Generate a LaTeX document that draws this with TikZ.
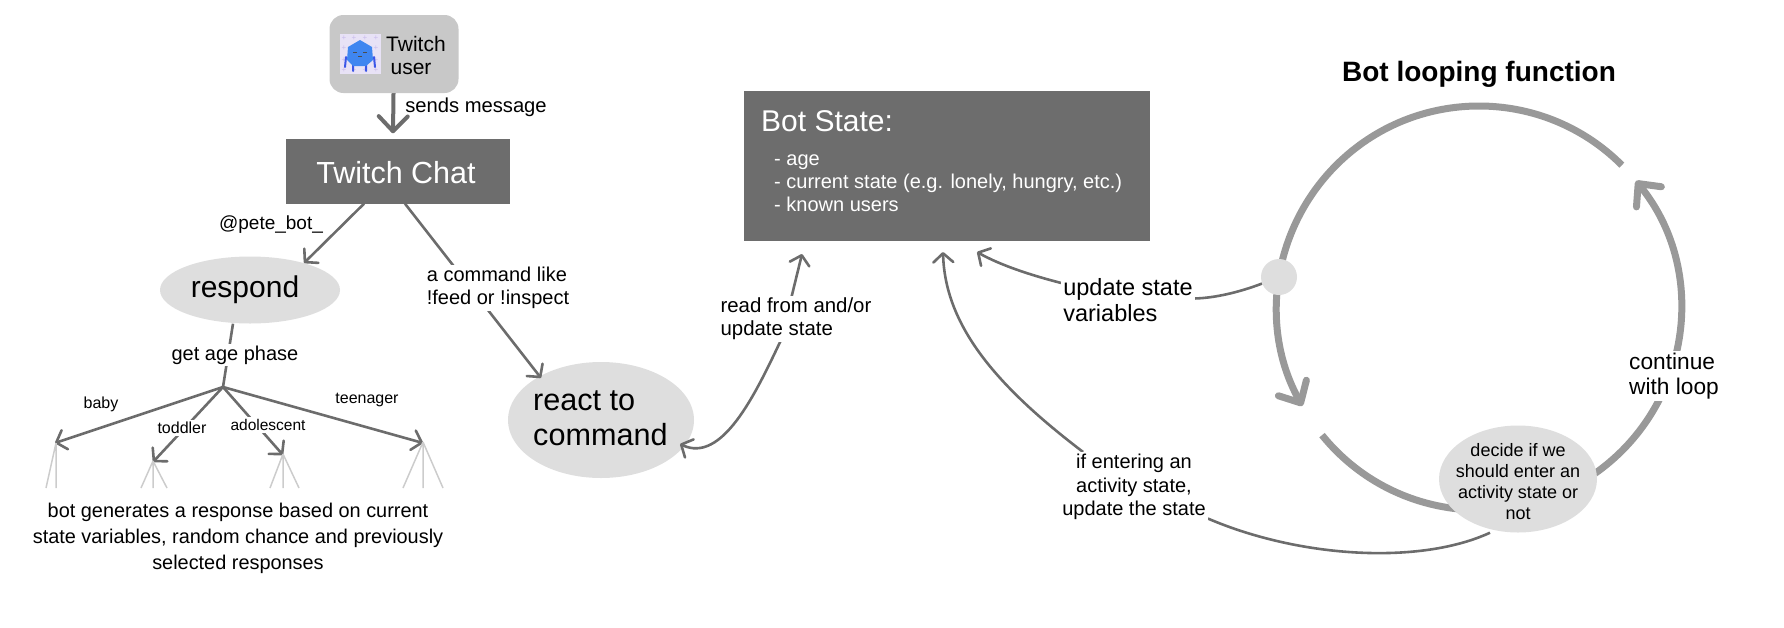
\documentclass[tikz,border=0pt]{standalone}
\usepackage{fontspec}
\setmainfont{Liberation Sans}
\usetikzlibrary{arrows.meta,backgrounds,positioning,shapes.geometric}

\definecolor{boxgrey}{HTML}{6D6D6D}
\definecolor{linegrey}{HTML}{6C6C6C}
\definecolor{loopgrey}{HTML}{999999}
\definecolor{blobgrey}{HTML}{DEDEDE}
\definecolor{usergrey}{HTML}{C8C8C8}
\definecolor{twiggrey}{HTML}{CCCCCC}
\definecolor{avatarbg}{HTML}{E8E2F6}
\definecolor{avatarplus}{HTML}{C9BCEC}
\definecolor{avatarblue}{HTML}{3F86F0}
\definecolor{avatarlimb}{HTML}{3B56E8}

\newcommand{\fsize}[1]{\fontsize{#1}{#1}\selectfont}

\begin{document}
\begin{tikzpicture}[
    x=1pt, y=-1pt,
    >={Straight Barb[length=9pt,width=20pt,round]},
    darkbox/.style={
        rectangle,
        fill=boxgrey,
        text=white,
        inner sep=0pt
    },
    blob/.style={
        ellipse,
        fill=blobgrey,
        inner sep=0pt
    },
    lbl/.style={
        fill=white,
        inner sep=2pt,
        align=center
    },
    conn/.style={
        draw=linegrey,
        line width=2.6pt
    },
    twig/.style={
        draw=twiggrey,
        line width=1.5pt
    },
    loopline/.style={
        draw=loopgrey,
        line width=7pt,
        -{Straight Barb[length=17pt,width=32pt,round]}
    }
]
    \useasboundingbox (0,0) rectangle (1784,627);

    % Twitch user box with its avatar
    \node[fill=usergrey, rounded corners=14pt, minimum width=129pt, minimum height=78pt, inner sep=0pt] (user) at (394,54) {};
    \node[fill=avatarbg, minimum width=41pt, minimum height=40pt, inner sep=0pt] (avatar) at (360,54) {};
    \foreach \px in {344,354,365,376} \foreach \py in {38,48,60,70}
        \node[text=avatarplus, inner sep=0pt, font=\fsize{8}] at (\px,\py) {+};
    \draw[avatarlimb, line width=2pt, line cap=round] (346,57) -- (345,67) (374,57) -- (375,67) (353,64) -- (353,71) (366,64) -- (366,71);
    \fill[avatarblue] (360,40) -- (372,47) -- (373,60) -- (366,66) -- (353,66) -- (347,60) -- (348,47) -- cycle;
    \draw[black!70, line width=1pt] (353,52) -- (357,52) (363,52) -- (367,52) (358,56) -- (362,56);
    \node[font=\fsize{21}, inner sep=0pt] (twitchword) at (416,44) {Twitch};
    \node[font=\fsize{21}, inner sep=0pt] (userword) at (411,69) {user};

    % Twitch chat box
    \node[darkbox, minimum width=224pt, minimum height=65pt] (chat) at (398,171) {};
    \node[text=white, font=\fsize{30.5}, inner sep=0pt] (chatword) at (396,173) {Twitch Chat};
    \node[font=\fsize{20.2}, inner sep=0pt] (sends) at (476,107) {sends message};
    \node[font=\fsize{19}, inner sep=0pt] (mention) at (271,225) {@pete\_bot\_};

    % Response branch
    \node[blob, minimum width=180pt, minimum height=67pt] (respond) at (250,290) {};
    \node[font=\fsize{30}, inner sep=0pt] (respondword) at (245,290) {respond};
    \coordinate (chatleft) at ([xshift=-34pt]chat.south);
    \coordinate (respondtip) at (304,263);
    \draw[conn, ->] (chatleft) -- (respondtip);
    \node[lbl, font=\fsize{20}] (agephase) at (235,355) {get age phase};
    \coordinate (ageout) at ([xshift=-17pt]respond.south);
    \coordinate (agehub) at (223,387);
    \coordinate (babytip) at (55,443);
    \coordinate (toddlertip) at (153,462);
    \coordinate (adoltip) at (283,455);
    \coordinate (teentip) at (423,443);
    \node[font=\fsize{16}, inner sep=0pt] (baby) at (101,404) {baby};
    \node[lbl, font=\fsize{16}] (toddler) at (182,428) {toddler};
    \node[lbl, font=\fsize{15.5}] (adolescent) at (268,425) {adolescent};
    \node[font=\fsize{16}, inner sep=0pt] (teenager) at (367,400) {teenager};
    \node[font=\fsize{19.9}, align=center, inner sep=0pt] (generates) at (238,538) {bot generates a response based on current\\[6pt]state variables, random chance and previously\\[6pt]selected responses};

    % Command branch
    \node[blob, minimum width=186pt, minimum height=116pt] (react) at (601,420) {};
    \node[font=\fsize{30.6}, align=left, inner sep=0pt, anchor=west] (reactword) at (533,418) {react to\\[4pt]command};
    \coordinate (chatright) at ([xshift=7pt]chat.south);
    \coordinate (reacttip) at (541,378);
    \draw[conn, ->] (chatright) -- (reacttip);
    \node[lbl, font=\fsize{20}, align=left] (cmdlabel) at (498,288) {a command like\\[3pt]!feed or !inspect};

    % Bot state box
    \node[darkbox, minimum width=406pt, minimum height=150pt] (state) at (947,166) {};
    \node[text=white, font=\fsize{30}, inner sep=0pt, anchor=west] (statetitle) at (761,121) {Bot State:};
    \node[text=white, font=\fsize{20}, align=left, inner sep=0pt, anchor=west] (statelist) at (774,183) {- age\\[3pt]- current state (e.g. lonely, hungry, etc.)\\[3pt]- known users};
    \coordinate (reactout) at (680,444);
    \coordinate (readtip) at (802,254);
    \draw[conn, <->] (reactout) .. controls (722,464) and (755,395) .. (781,340) -- (readtip);
    \node[lbl, font=\fsize{20.4}, align=left] (readlabel) at (796,319) {read from and/or\\[3pt]update state};
    \node[lbl, font=\fsize{23.5}, align=left] (updlabel) at (1128,300) {update state\\[2.5pt]variables};
    \node[lbl, font=\fsize{20}] (entering) at (1134,487) {if entering an\\[3.5pt]activity state,\\[3.5pt]update the state};

    % Bot loop on the right
    \coordinate (loopcentre) at (1479,308);
    \node[font=\bfseries\fsize{28}, inner sep=0pt] (looptitle) at (1479,74) {Bot looping function};
    \node[circle, fill=blobgrey, minimum size=36pt, inner sep=0pt] (dot) at (1279,277) {};
    \node[blob, minimum width=158pt, minimum height=107pt] (decide) at (1518,479) {};
    \node[font=\fsize{18}, align=center, inner sep=0pt] (decidetext) at (1518,482) {decide if we\\[3pt]should enter an\\[3pt]activity state or\\[3pt]not};
    \node[lbl, font=\fsize{22.7}, align=left] (continue) at (1674,376) {continue\\[2.5pt]with loop};

    % Connectors go under the nodes
    \begin{scope}[on background layer]
        \coordinate (chatin) at ([yshift=5pt,xshift=-1pt]chat.north -| user);
        \draw[conn, line width=4pt, -{Straight Barb[length=15pt,width=29pt,round]}] (user) -- (chatin);
        \draw[conn] (ageout) -- (agehub);
        \foreach \tip in {babytip, toddlertip, adoltip, teentip}
            \draw[conn, ->] (agehub) -- (\tip);
        \draw[twig] (babytip) ++(1,0) -- ++(0,45) (babytip) ++(1,0) -- ++(-10,45);
        \foreach \tip/\l/\r/\h in {toddlertip/-12/14/27, adoltip/-13/16/34, teentip/-20/20/46} {
            \draw[twig] (\tip) ++(0,-1) -- ++(\l,\h) (\tip) ++(0,-1) -- ++(0,\h) (\tip) ++(0,-1) -- ++(\r,\h);
        }
        % Curved arrows around the state box
        \coordinate (stateintip) at (943,252);
        \coordinate (updtip) at (977,252);
        \coordinate (decideout) at ([xshift=-28pt]decide.south);
        \coordinate (enterout) at ([xshift=23pt]entering.north west);
        \draw[conn] (dot) .. controls (1240,292) and (1215,298) .. (updlabel);
        \draw[conn, ->] (updlabel) .. controls (1030,275) and (1000,265) .. (updtip);
        \draw[conn] (decideout) .. controls (1420,565) and (1300,558) .. (entering);
        \draw[conn, ->] (enterout) .. controls (995,385) and (945,325) .. (stateintip);
        % The two big arcs
        \draw[loopline] (loopcentre) ++(-45:202) arc[start angle=-45, end angle=-209, radius=202];
        \draw[loopline] (loopcentre) ++(-219:202) arc[start angle=-219, end angle=-399, radius=202];
    \end{scope}
\end{tikzpicture}
\end{document}
